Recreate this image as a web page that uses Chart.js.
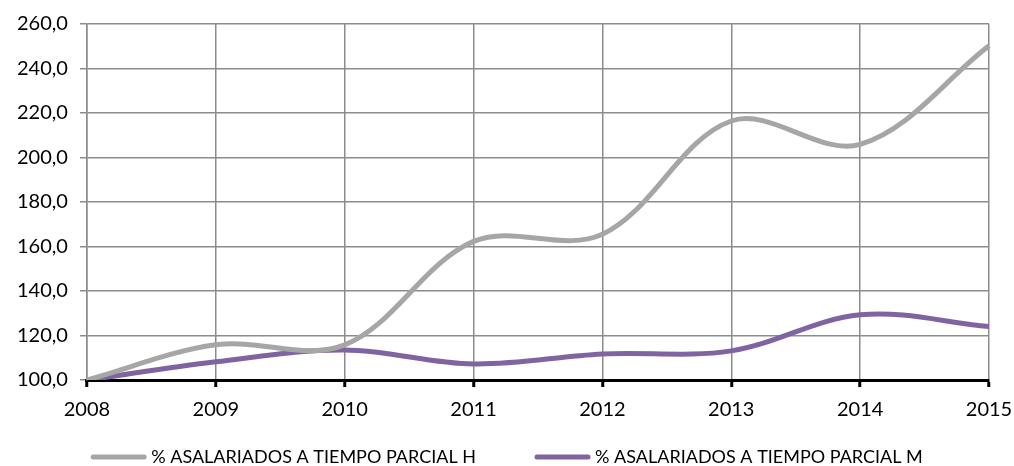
<!DOCTYPE html>
<html>
<head>
<meta charset="utf-8">
<script src="https://cdn.jsdelivr.net/npm/chart.js@4.4.1/dist/chart.umd.min.js"></script>
<style>
    html, body { margin: 0; padding: 0; background: #fff; }
    #wrap { width: 1014px; height: 466px; position: relative; }
</style>
</head>
<body>
<div id="wrap"><canvas id="partTimeChart"></canvas></div>
<script>
// Series
const years = ['2008', '2009', '2010', '2011', '2012', '2013', '2014', '2015'];
const partTimeMen = [100.0, 115.8, 115.8, 162.3, 165.5, 216.4, 205.9, 250.2];
const partTimeWomen = [100.0, 108.2, 113.5, 107.2, 111.7, 113.1, 129.3, 124.0];
const seriesLabels = ['% ASALARIADOS A TIEMPO PARCIAL H', '% ASALARIADOS A TIEMPO PARCIAL M'];
const yMin = 100;
const yMax = 260;
const yStep = 20;

const GREY = '#a6a6a6';
const PURPLE = '#8064a2';
const GRID = '#8c8c8c';
const FONT = 'Lato, "Open Sans", sans-serif';

Chart.defaults.font.family = FONT;
Chart.defaults.color = '#000';

// Legend drawn by hand so the gaps can match the original spreadsheet legend
const bottomLegend = {
    id: 'bottomLegend',
    afterDraw(chart) {
        const ctx = chart.ctx;
        const lineLen = 55;
        const textGap = 5;
        const itemGap = 59;
        const y = 457;
        ctx.save();
        ctx.font = '18px ' + FONT;
        ctx.textBaseline = 'middle';
        const items = chart.data.datasets.map(ds => ({
            text: ds.label,
            color: ds.borderColor,
            w: ctx.measureText(ds.label).width
        }));
        const total = items.reduce((s, it) => s + lineLen + textGap + it.w, 0) + itemGap * (items.length - 1);
        let x = (chart.width - total) / 2;
        items.forEach(it => {
            ctx.strokeStyle = it.color;
            ctx.lineWidth = 5;
            ctx.lineCap = 'round';
            ctx.beginPath();
            ctx.moveTo(x + 2, y);
            ctx.lineTo(x + lineLen - 2, y);
            ctx.stroke();
            ctx.fillStyle = '#000';
            ctx.fillText(it.text, x + lineLen + textGap, y);
            x += lineLen + textGap + it.w + itemGap;
        });
        ctx.restore();
    }
};

new Chart(document.getElementById('partTimeChart'), {
    type: 'line',
    data: {
        labels: years,
        datasets: [{
            label: seriesLabels[0],
            data: partTimeMen,
            borderColor: GREY,
            backgroundColor: GREY,
            borderWidth: 5,
            pointRadius: 0,
            tension: 0.35
        }, {
            label: seriesLabels[1],
            data: partTimeWomen,
            borderColor: PURPLE,
            backgroundColor: PURPLE,
            borderWidth: 5,
            pointRadius: 0,
            tension: 0.35
        }]
    },
    options: {
        responsive: true,
        maintainAspectRatio: false,
        animation: false,
        layout: {
            padding: { top: 12, right: 0, left: 5, bottom: 33 }
        },
        plugins: {
            legend: { display: false },
            tooltip: { enabled: false }
        },
        scales: {
            x: {
                offset: false,
                afterFit(scale) {
                    // keep the last year label tight to the right edge
                    scale.paddingRight = 25;
                },
                grid: {
                    color: GRID,
                    lineWidth: 1.5,
                    tickColor: '#000',
                    tickLength: 7,
                    tickWidth: 3
                },
                border: { color: '#000', width: 3 },
                ticks: {
                    font: { size: 20 },
                    padding: 11,
                    maxRotation: 0
                }
            },
            y: {
                min: yMin,
                max: yMax,
                grid: {
                    color: GRID,
                    lineWidth: 1.5,
                    tickLength: 7
                },
                border: { color: GRID, width: 1.5 },
                ticks: {
                    stepSize: yStep,
                    font: { size: 20 },
                    padding: 12,
                    callback: v => v.toFixed(1).replace('.', ',')
                }
            }
        }
    },
    plugins: [bottomLegend]
});
</script>
</body>
</html>
